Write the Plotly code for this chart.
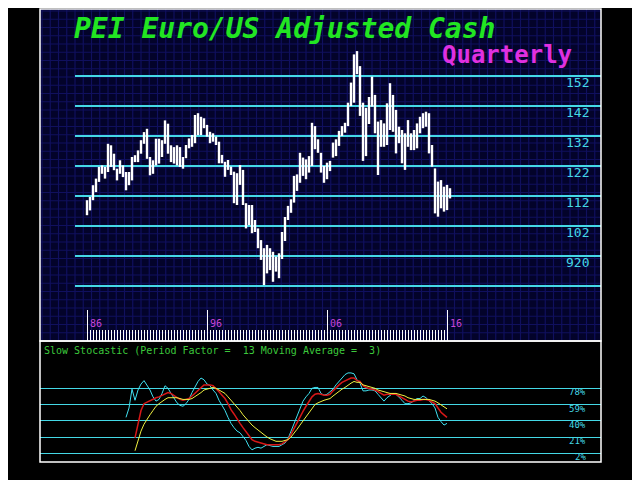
import plotly.graph_objects as go

# page has an 8px body margin; the figure is placed at (8, 8)
OFF = 8
W, H = 632, 472

# ---------------- data ----------------
# quarter index 0 = 1986 Q1
highs = [110.6, 111.7, 115.6, 117.8, 121.7, 122.2, 121.7, 129.4, 128.9, 126.1,
         121.1, 123.9, 122.2, 120.0, 120.0, 125.0, 125.6, 127.2, 130.6, 133.3,
         134.4, 125.0, 123.9, 131.1, 131.1, 130.6, 137.2, 136.1, 128.9, 128.3,
         128.9, 128.3, 125.0, 129.0, 131.2, 132.3, 139.0, 139.6, 138.4, 137.9,
         135.7, 133.4, 132.9, 131.8, 130.1, 125.7, 123.4, 124.0, 121.8, 120.1,
         119.6, 122.3, 120.7, 109.6, 109.0, 109.0, 104.0, 101.2, 97.3, 94.6,
         95.7, 94.6, 93.4, 91.8, 92.9, 100.0, 105.0, 108.7, 110.9, 118.7,
         119.2, 126.4, 124.8, 124.2, 125.3, 136.4, 135.3, 130.9, 126.4, 122.0,
         123.1, 123.7, 129.8, 130.9, 133.7, 135.3, 136.4, 143.1, 149.8, 159.2,
         160.3, 155.3, 143.1, 141.4, 145.0, 151.8, 145.7, 136.8, 137.3, 136.2,
         142.9, 149.6, 145.7, 140.7, 135.1, 134.0, 132.9, 137.3, 132.9, 134.0,
         136.2, 138.4, 139.6, 140.1, 139.6, 129.0, 121.2, 116.8, 117.3, 115.1,
         115.7, 114.6]
lows = [105.6, 107.2, 110.6, 113.3, 116.7, 119.4, 117.8, 120.0, 121.7, 120.6,
        117.2, 119.4, 118.3, 113.9, 115.6, 117.2, 123.3, 123.3, 126.1, 129.4,
        124.4, 118.9, 119.4, 122.2, 122.8, 125.0, 129.4, 126.1, 123.3, 122.8,
        122.2, 121.7, 121.1, 124.6, 127.9, 128.4, 129.6, 132.3, 132.3, 134.6,
        131.8, 129.6, 130.1, 129.0, 122.9, 122.9, 118.4, 120.7, 119.0, 109.6,
        109.0, 115.7, 109.0, 101.2, 102.3, 99.6, 100.0, 94.6, 90.7, 82.3,
        86.2, 87.3, 83.4, 86.8, 84.6, 91.0, 97.0, 104.0, 106.4, 109.8,
        113.7, 116.4, 118.7, 117.6, 119.8, 122.0, 127.6, 126.4, 119.8, 116.4,
        117.6, 120.3, 124.8, 125.3, 128.7, 132.0, 133.1, 135.3, 142.0, 143.1,
        152.6, 138.7, 123.7, 125.3, 136.0, 141.8, 132.9, 119.0, 128.4, 128.4,
        129.0, 134.0, 133.4, 126.2, 129.6, 122.9, 120.7, 128.4, 127.3, 127.3,
        127.9, 132.9, 134.6, 135.1, 126.2, 121.8, 106.2, 105.1, 107.9, 106.8,
        107.3, 111.2]

price_ticks = [152, 142, 132, 122, 112, 102, 92, 82]
price_tick_text = ["152", "142", "132", "122", "112", "102", "920", ""]

year_ticks = [0, 40, 80, 120]
year_labels = ["86", "96", "06", "16"]
quarter_ticks = list(range(0, 121))

fast_start = 13
fast_k = [44, 55, 77, 64, 76, 83, 87, 82, 76, 68, 63, 65, 72, 81, 78, 72, 66, 61, 58, 57,
          60, 65, 73, 80, 86, 90, 88, 83, 81, 76, 72, 64, 58, 52, 44, 37, 32, 28, 26, 22,
          17, 10, 6, 8, 9, 8, 10, 12, 11, 10, 10, 10, 12, 14, 19, 28, 37, 47, 54, 63,
          68, 72, 78, 79, 79, 72, 70, 71, 74, 77, 82, 86, 91, 94, 96, 96, 95, 88, 84, 75,
          75, 76, 76, 75, 71, 67, 63, 67, 70, 72, 71, 68, 64, 60, 60, 61, 64, 66, 66, 69,
          67, 64, 60, 55, 44, 39, 35, 37]
slow_start = 16
slow_d = [20, 35, 52, 60, 62, 63, 65, 67, 68, 70, 72, 73, 72, 69, 67, 65, 64, 65, 66, 69,
          72, 76, 79, 82, 82, 82, 81, 78, 74, 70, 66, 60, 53, 48, 42, 37, 32, 27, 22, 18,
          16, 15, 14, 13, 12, 12, 12, 12, 12, 13, 15, 18, 24, 31, 38, 45, 51, 57, 63, 68,
          71, 72, 71, 70, 70, 71, 75, 79, 82, 85, 87, 89, 90, 90, 87, 86, 81, 79, 78, 77,
          76, 74, 72, 70, 71, 71, 71, 71, 69, 67, 64, 63, 62, 63, 64, 64, 65, 65, 64, 62,
          60, 55, 50, 47, 44]
slow_avg = [5, 16, 28, 36, 42, 47, 52, 57, 60, 63, 65, 67, 67, 67, 67, 66, 65, 65, 65, 66,
            68, 70, 73, 76, 77, 78, 79, 78, 76, 74, 72, 68, 64, 61, 56, 52, 47, 43, 38, 35,
            32, 29, 27, 24, 21, 19, 17, 16, 16, 16, 17, 18, 21, 25, 30, 35, 40, 45, 50, 55,
            59, 61, 63, 64, 65, 66, 69, 72, 74, 77, 79, 82, 84, 86, 85, 85, 82, 81, 80, 79,
            78, 76, 75, 74, 73, 72, 72, 72, 71, 70, 69, 67, 66, 65, 65, 65, 65, 65, 65, 64,
            63, 61, 59, 57, 54]

stoch_levels = [78, 59, 40, 21, 2]
stoch_labels = ["78%", "59%", "40%", "21%", "2%"]

# ---------------- geometry helpers (screen px -> paper) ----------------
def px(x):
    return (x - OFF) / W


def py(y):
    return 1 - (y - OFF) / H


LEFT, RIGHT = 40, 601
TOP, MID, BOT = 9, 341, 462
X0_PX, X_STEP = 87, 3.0
P_REF_PX, P_REF_V, P_SCALE = 76, 152, 3.0
S_REF_PX, S_REF_V, S_SCALE = 388.3, 78, 0.855

xr = [(LEFT - X0_PX) / X_STEP, (RIGHT - X0_PX) / X_STEP]
pr = [P_REF_V - (MID - P_REF_PX) / P_SCALE, P_REF_V - (TOP - P_REF_PX) / P_SCALE]
sr = [S_REF_V - (BOT - S_REF_PX) / S_SCALE, S_REF_V - (MID - S_REF_PX) / S_SCALE]

MONO = "DejaVu Sans Mono"
CYAN = "#44d8e6"
GRIDC = "#10105e"
GRID = 8.25

fig = go.Figure()

# price bars (high-low)
bx, by = [], []
for i, (h, l) in enumerate(zip(highs, lows)):
    bx += [i, i, None]
    by += [l, h, None]
fig.add_trace(go.Scatter(x=bx, y=by, mode="lines", xaxis="x2", yaxis="y2",
                         line=dict(color="white", width=2.4), showlegend=False, hoverinfo="skip"))

# stochastic
fig.add_trace(go.Scatter(x=list(range(fast_start, fast_start + len(fast_k))), y=fast_k,
                         mode="lines", xaxis="x3", yaxis="y3",
                         line=dict(color="#40e0f0", width=1), showlegend=False))
fig.add_trace(go.Scatter(x=list(range(slow_start, slow_start + len(slow_d))), y=slow_d,
                         mode="lines", xaxis="x3", yaxis="y3",
                         line=dict(color="#d81818", width=1.5), showlegend=False))
fig.add_trace(go.Scatter(x=list(range(slow_start, slow_start + len(slow_avg))), y=slow_avg,
                         mode="lines", xaxis="x3", yaxis="y3",
                         line=dict(color="#f0f040", width=1), showlegend=False))

shapes = []
# navy panel background
shapes.append(dict(type="rect", xref="paper", yref="paper", x0=px(LEFT), x1=px(RIGHT),
                   y0=py(MID), y1=py(TOP), fillcolor="#03032a", line=dict(width=0), layer="below"))
# decorative background grid
gx = LEFT + 2
while gx < RIGHT:
    shapes.append(dict(type="line", xref="paper", yref="paper", x0=px(gx), x1=px(gx),
                       y0=py(MID), y1=py(TOP), line=dict(color=GRIDC, width=1.2), layer="below"))
    gx += GRID
gy = TOP + 2
while gy < MID:
    shapes.append(dict(type="line", xref="paper", yref="paper", x0=px(LEFT), x1=px(RIGHT),
                       y0=py(gy), y1=py(gy), line=dict(color=GRIDC, width=1.2), layer="below"))
    gy += GRID
# price level lines
for v in price_ticks:
    shapes.append(dict(type="line", xref="paper", yref="y2", x0=px(75), x1=px(RIGHT),
                       y0=v, y1=v, line=dict(color=CYAN, width=2), layer="below"))
# borders
shapes.append(dict(type="rect", xref="paper", yref="paper", x0=px(LEFT), x1=px(RIGHT),
                   y0=py(MID), y1=py(TOP), line=dict(color="white", width=1.5), layer="above"))
shapes.append(dict(type="rect", xref="paper", yref="paper", x0=px(LEFT), x1=px(RIGHT),
                   y0=py(BOT), y1=py(MID), line=dict(color="white", width=1.5), layer="above"))

ann = []
ann.append(dict(text="<b><i>PEI Euro/US Adjusted Cash</i></b>", xref="paper", yref="paper",
                x=px(72), y=py(29), xanchor="left", yanchor="middle", showarrow=False,
                font=dict(family=MONO, size=28, color="#22e622")))
ann.append(dict(text="<b>Quarterly</b>", xref="paper", yref="paper",
                x=px(440), y=py(55), xanchor="left", yanchor="middle", showarrow=False,
                font=dict(family=MONO, size=24, color="#e030e0")))
for v, t in zip(price_ticks, price_tick_text):
    if t:
        ann.append(dict(text=t, xref="paper", yref="y2", x=px(591), y=v, yshift=-6,
                        xanchor="right", yanchor="middle", showarrow=False,
                        font=dict(family=MONO, size=13, color=CYAN)))
for k, t in zip(year_ticks, year_labels):
    ann.append(dict(text=t, xref="x2", yref="paper", x=k, y=py(323), xshift=1,
                    xanchor="left", yanchor="middle", showarrow=False,
                    font=dict(family=MONO, size=10, color="#c845d8")))
ann.append(dict(text="Slow Stocastic (Period Factor =\u00a0\u00a013 Moving Average =\u00a0\u00a03)",
                xref="paper", yref="paper", x=px(42), y=py(350), xanchor="left", yanchor="middle",
                showarrow=False, font=dict(family=MONO, size=10, color="#3cc83c")))
for v, t in zip(stoch_levels, stoch_labels):
    ann.append(dict(text=t, xref="paper", yref="y3", x=px(588), y=v, yshift=-4,
                    xanchor="right", yanchor="middle", showarrow=False,
                    font=dict(family=MONO, size=9, color=CYAN)))

fig.update_layout(
    width=W, height=H, margin=dict(l=0, r=0, t=0, b=0),
    paper_bgcolor="black", plot_bgcolor="rgba(0,0,0,0)",
    showlegend=False,
    xaxis2=dict(domain=[px(LEFT), px(RIGHT)], range=xr, anchor="y2",
                showgrid=False, zeroline=False, showline=False, showticklabels=False,
                tickmode="array", tickvals=year_ticks, ticks="inside", ticklen=31,
                tickcolor="white", tickwidth=1,
                minor=dict(tickmode="array", tickvals=quarter_ticks, ticks="inside",
                           ticklen=11, tickcolor="white", tickwidth=1, showgrid=False)),
    yaxis2=dict(domain=[py(MID), py(TOP)], range=pr, anchor="x2",
                showgrid=False, zeroline=False, showline=False, showticklabels=False),
    xaxis3=dict(domain=[px(LEFT), px(RIGHT)], range=xr, anchor="y3",
                showgrid=False, zeroline=False, showline=False, showticklabels=False, ticks=""),
    yaxis3=dict(domain=[py(BOT), py(MID)], range=sr, anchor="x3",
                tickmode="array", tickvals=stoch_levels, showgrid=True, gridcolor=CYAN,
                gridwidth=1.2, zeroline=False, showline=False, showticklabels=False, ticks=""),
    shapes=shapes, annotations=ann,
)

fig.write_html("out.html")
